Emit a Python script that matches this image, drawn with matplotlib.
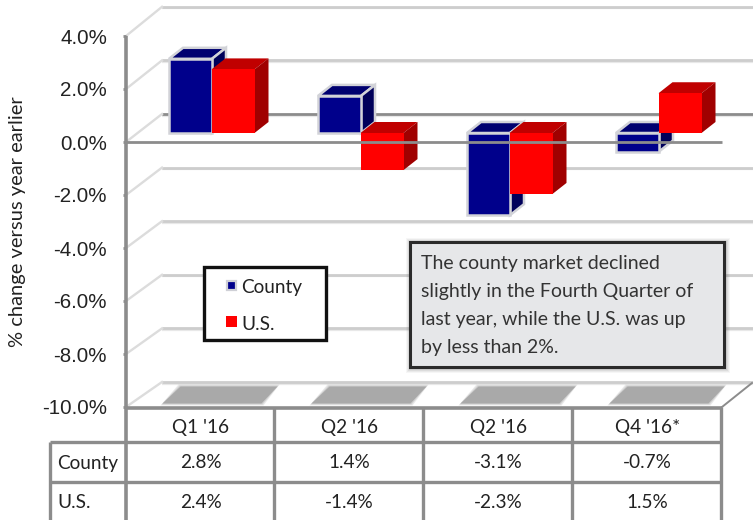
import matplotlib
matplotlib.use("Agg")
import matplotlib.pyplot as plt
from matplotlib.patches import Rectangle, Polygon

quarters = ["Q1 '16", "Q2 '16", "Q2 '16", "Q4 '16*"]
county = [2.8, 1.4, -3.1, -0.7]
us = [2.4, -1.4, -2.3, 1.5]
ticks = [4, 2, 0, -2, -4, -6, -8, -10]
note = ["The county market declined",
        "slightly in the Fourth Quarter of",
        "last year, while the U.S. was up",
        "by less than 2%."]

W, H = 753, 520
X0, CAT = 126.0, 149.0      # axis pixel, pixels per category
Y0, UNIT = 142.0, 26.5      # zero pixel, pixels per percent

fig = plt.figure(figsize=(W / 100, H / 100), dpi=100)
ax = fig.add_axes([0, 0, 1, 1])
ax.set_xlim(-X0 / CAT, (W - X0) / CAT)
ax.set_ylim((Y0 - H) / UNIT, Y0 / UNIT)
ax.axis("off")

def dx(p): return p / CAT
def dy(p): return p / UNIT
def X(px): return (px - X0) / CAT
def Y(py): return (Y0 - py) / UNIT
def back(t): return t * 1.0113 + dy(28)   # back wall sits slightly larger in perspective

SANS = "Liberation Sans"
COND = "Lato"
TXT = "#222222"
GRID = "#cdcdcd"
GRID2 = "#e8e8e8"
DARK = "#8c8c8c"
BX = dx(36)                 # wall depth
SX, SY = dx(14), dy(11)     # bar depth
LIFT = dy(9)                # bar base above front zero line
BW = dx(43)
FS = 13.7

# walls and gridlines
for t in ticks:
    c = DARK if t == 0 else GRID
    ax.plot([BX, W / CAT], [back(t) - dy(1.6)] * 2, color=GRID2, lw=1.6, zorder=1, solid_capstyle="butt")
    ax.plot([BX, W / CAT], [back(t)] * 2, color=c, lw=2, zorder=1.1, solid_capstyle="butt")
    ax.plot([0, BX], [t, back(t)], color="#dcdcdc", lw=1.7, zorder=1.2)
    ax.plot([dx(-3), 0], [t, t], color=DARK, lw=2, zorder=3, solid_capstyle="butt")

# floor shadows
for i in range(len(quarters)):
    for grow, a in ((1.5, .25), (.5, .4), (-.5, 1)):
        xs = [i + dx(36 - grow), i + dx(54 - grow), i + dx(152 + grow), i + dx(136 + grow)]
        ys = [-10 + dy(3 - grow), -10 + dy(21 + grow), -10 + dy(21 + grow), -10 + dy(3 - grow)]
        ax.add_patch(Polygon(list(zip(xs, ys)), closed=True, fc="#a9a9a9", ec="none", alpha=a, zorder=1.5))

# bars
def bar3d(i, left, v, front, top, side, edge, z):
    x = i + left
    lo, hi = min(v, 0) + LIFT, max(v, 0) + LIFT
    ec = dict(ec=edge, lw=1.8) if edge else dict(ec="none")
    ax.add_patch(Polygon([(x, hi), (x + SX, hi + SY), (x + BW + SX, hi + SY), (x + BW, hi)],
                         closed=True, fc=top, zorder=z, **ec))
    ax.add_patch(Polygon([(x + BW, lo), (x + BW + SX, lo + SY), (x + BW + SX, hi + SY), (x + BW, hi)],
                         closed=True, fc=side, zorder=z, **ec))
    ax.bar(x, hi - lo, BW, bottom=lo, align="edge", color=front, zorder=z + .01,
           edgecolor=edge if edge else "none", linewidth=1.8 if edge else 0)

for i, (c, u) in enumerate(zip(county, us)):
    bar3d(i, dx(43), c, "#00008b", "#000070", "#00005a", "#d2d3d8", 2)
    bar3d(i, dx(85.5), u, "#ff0000", "#c00000", "#a00000", None, 2.1)

# front zero line and axis
ax.plot([0, 4.0], [0, 0], color=DARK, lw=2, zorder=4, solid_capstyle="butt")
ax.plot([0, 0], [Y(36), Y(H)], color=DARK, lw=2.6, zorder=5, solid_capstyle="butt")
ax.plot([4.0, X(752)], [-10, -10 + dy(24)], color=DARK, lw=1.4, zorder=3)

for t in ticks:
    ax.text(dx(-19), t - dy(2), f"{t:.1f}%", ha="right", va="center", family=SANS, fontsize=14.8, color=TXT, zorder=6)
ax.text(X(18), Y(222), "% change versus year earlier", rotation=90, ha="center", va="center",
        family=COND, fontsize=14.5, color=TXT, zorder=6)

# data table
TBL = "#8c8c8c"
rows = [Y(442), Y(482)]
for xv in [1, 2, 3, 4]:
    ax.plot([xv - dx(1), xv - dx(1)], [-10, Y(H)], color=TBL, lw=2.4, zorder=5, solid_capstyle="butt")
ax.plot([0, 4], [-10 - dy(1), -10 - dy(1)], color=TBL, lw=2.6, zorder=5, solid_capstyle="butt")
for r in rows:
    ax.plot([X(50), 4], [r, r], color=TBL, lw=2.4, zorder=5, solid_capstyle="butt")
ax.plot([X(50), X(50)], [rows[0], Y(H)], color=TBL, lw=2.4, zorder=5, solid_capstyle="butt")

for i, q in enumerate(quarters):
    ax.text(i + .5, Y(428), q, ha="center", va="center", family=COND, fontsize=FS, color=TXT, zorder=6)
    ax.text(i + .5, Y(463), f"{county[i]:.1f}%", ha="center", va="center", family=COND, fontsize=FS, color=TXT, zorder=6)
    ax.text(i + .5, Y(503), f"{us[i]:.1f}%", ha="center", va="center", family=COND, fontsize=FS, color=TXT, zorder=6)
ax.text(X(57), Y(463), "County", ha="left", va="center", family=COND, fontsize=FS, color=TXT, zorder=6)
ax.text(X(57), Y(503), "U.S.", ha="left", va="center", family=COND, fontsize=FS, color=TXT, zorder=6)

# legend
ax.add_patch(Rectangle((X(203.5), Y(339.5)), dx(122), dy(73), fc="white", ec="#111111", lw=2.4, zorder=6))
ax.add_patch(Rectangle((X(227), Y(290)), dx(9), dy(9), fc="#00008b", ec="#cfd0d6", lw=1.6, zorder=7))
ax.add_patch(Rectangle((X(226), Y(327)), dx(11), dy(11), fc="#ff0000", ec="none", zorder=7))
ax.text(X(241), Y(287), "County", ha="left", va="center", family=COND, fontsize=FS, color=TXT, zorder=7)
ax.text(X(241), Y(324), "U.S.", ha="left", va="center", family=COND, fontsize=FS, color=TXT, zorder=7)

# callout
for g, a in ((5, .05), (4, .07), (3, .09), (2, .11), (1, .13)):
    ax.add_patch(Rectangle((X(410 - g + 1), Y(367 + g + 1)), dx(314 + 2 * g), dy(125 + 2 * g),
                           fc="#555555", ec="none", alpha=a, zorder=6))
ax.add_patch(Rectangle((X(410), Y(367)), dx(314), dy(125), fc="#e6e7e9", ec="#2b2b2b", lw=2.2, zorder=7))
for line, py in zip(note, (263, 291, 320, 348)):
    ax.text(X(421), Y(py), line, ha="left", va="center", family=COND, fontsize=14, color="#333333", zorder=8)

fig.savefig("out.png", dpi=100)
